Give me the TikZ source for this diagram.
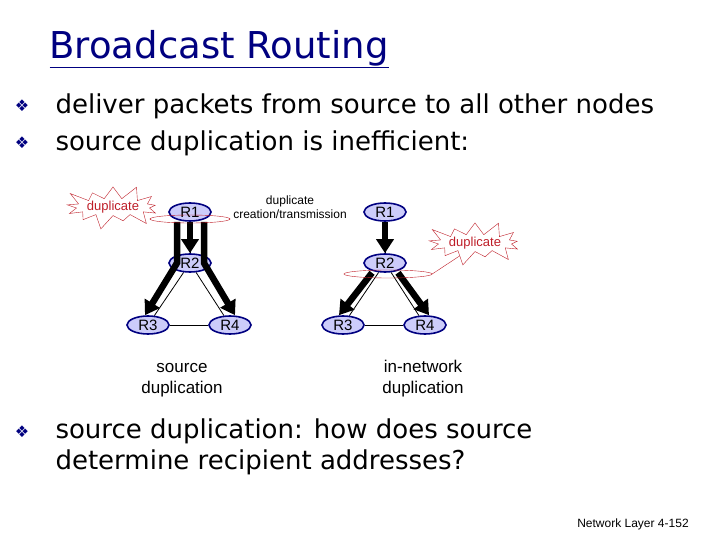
\documentclass[tikz,border=0pt]{standalone}
\usepackage{fontspec}
\setmainfont{DejaVu Sans}
\newfontfamily\arialfont{Liberation Sans}
\usetikzlibrary{shapes.geometric}
\usetikzlibrary{shapes.symbols}
\usetikzlibrary{arrows.meta}
\usetikzlibrary{backgrounds}
\definecolor{navy}{RGB}{0,0,128}
\definecolor{lav}{RGB}{204,204,250}
\definecolor{dupred}{RGB}{190,30,40}
\tikzset{router/.style={ellipse, draw=navy, line width=1.6pt, fill=lav,
    minimum width=42pt, minimum height=18pt, inner sep=0pt, font=\arialfont\fontsize{15}{15}\selectfont}}
\tikzset{link/.style={draw=black, line width=0.8pt}}
\tikzset{bigarrow/.style={line width=6.5pt, -{Triangle[length=14pt,width=17pt]}}}
\tikzset{burst/.style={starburst, draw=dupred, starburst points=13, starburst point height=16pt,
    minimum width=90pt, minimum height=46pt, inner sep=0pt, text=dupred,
    font=\arialfont\fontsize{13}{13}\selectfont}}
\tikzset{ring/.style={ellipse, draw=dupred, minimum height=8pt, inner sep=0pt}}
\tikzset{bullet/.style={text=navy, font=\fontsize{16}{16}\selectfont}}
\tikzset{body/.style={anchor=west, font=\fontsize{26}{31}\selectfont, align=left}}
\tikzset{caption/.style={align=center, font=\arialfont\fontsize{17}{21}\selectfont}}

\begin{document}
\begin{tikzpicture}[x=1pt,y=-1pt]
  \useasboundingbox (0,0) rectangle (720,540);
  \node[anchor=west, text=navy, font=\fontsize{37}{37}\selectfont] (title) at (46,49) {\underline{Broadcast Routing}};
  \foreach \y/\lab in {106/b1, 143/b2, 432/b3} {
    \node[bullet] (\lab) at (22,\y) {❖};
  }
  \node[body] (t1) at (52,106) {deliver packets from source to all other nodes};
  \node[body] (t2) at (52,143) {source duplication is inefficient:};
  \node[body, anchor=north west] (t3) at (52,415) {source duplication: how does source\\determine recipient addresses?};
  \foreach \x/\y/\lab/\txt in {
    190/212/a1/R1,
    190/263/a2/R2,
    148/325/a3/R3,
    230/325/a4/R4,
    385/212/c1/R1,
    385/263/c2/R2,
    343/325/c3/R3,
    425/325/c4/R4%
  } {
    \node[router] (\lab) at (\x, \y) {\txt};
  }
  \begin{scope}[on background layer]
    \foreach \g in {a,c} {
      \draw[link] (\g1) edge (\g2) (\g2) edge (\g3) (\g2) edge (\g4) (\g3) edge (\g4);
    }
  \end{scope}
  \draw[bigarrow] ([xshift=-13pt]a1.south) -- ([xshift=-13pt]a2.center) -- ([xshift=-3pt]a3.north);
  \draw[bigarrow] ([xshift=14pt]a1.south) -- ([xshift=14pt]a2.center) -- ([xshift=5pt]a4.north);
  \draw[bigarrow] (a1.south) -- (a2.north);
  \draw[bigarrow] (c1.south) -- (c2.north);
  \draw[bigarrow] ([xshift=-13pt]c2.south) -- ([xshift=-4pt]c3.north);
  \draw[bigarrow] ([xshift=13pt]c2.south) -- ([xshift=4pt]c4.north);
  \node[ring, minimum width=80pt] (ringa) at (190,219) {};
  \node[ring, minimum width=88pt] (ringc) at (388,274) {};
  \node[burst] (bursta) at (113,207) {duplicate};
  \node[burst] (burstc) at (475,243) {duplicate};
  \draw[dupred] (ringc.east) -- (burstc.220);
  \node[align=center, font=\arialfont\fontsize{12}{14}\selectfont] (dupl) at (290,207) {duplicate\\creation/transmission};
  \node[caption] (srcdup) at (182,380) {source\\duplication};
  \node[caption] (netdup) at (423,379) {in-network\\duplication};
  \node[font=\arialfont\fontsize{12}{12}\selectfont] (page) at (633,524) {Network Layer 4-152};
\end{tikzpicture}
\end{document}
